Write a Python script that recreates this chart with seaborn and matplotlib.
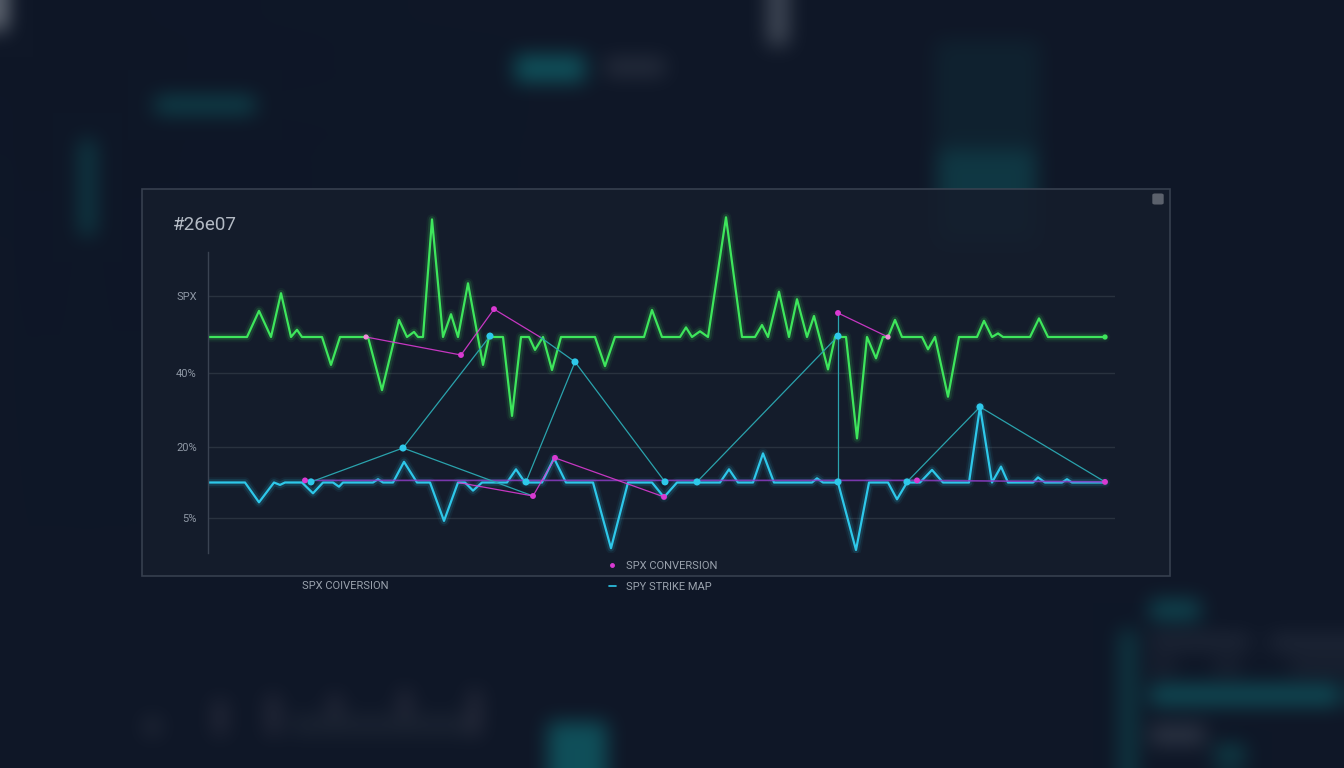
import numpy as np
import pandas as pd
import matplotlib
matplotlib.use("Agg")
import matplotlib.pyplot as plt
import seaborn as sns
from matplotlib.patches import Rectangle, FancyBboxPatch
from matplotlib.lines import Line2D

# ---- data (t = time step, v = level) ----
green_t = [0, 39, 51, 63, 73, 83, 89, 94, 114, 123, 132, 160, 174, 191, 199, 206, 210, 215,
           224, 235, 243, 250, 260, 275, 281, 295, 304, 313, 321, 327, 335, 344, 353, 387,
           397, 407, 436, 444, 454, 472, 478, 484, 492, 500, 518, 534, 547, 554, 560, 571,
           581, 589, 599, 606, 620, 627, 638, 649, 659, 668, 675, 680, 687, 694, 714, 720,
           727, 740, 751, 769, 776, 784, 790, 795, 822, 831, 840, 897]
green_v = [72, 72, 80.7, 72, 86.6, 72, 74.4, 72, 72, 62.7, 72, 72, 54.3, 77.7, 72, 73.7, 72, 72,
           111.2, 72, 79.6, 72, 89.9, 62.7, 72, 72, 45.7, 72, 72, 67.7, 72, 61.0, 72, 72,
           62.3, 72, 72, 81.0, 72, 72, 75.2, 72, 73.9, 72, 111.9, 72, 72, 76.0, 72, 87.1,
           72, 84.6, 72, 79.0, 61.2, 72, 72, 38.2, 72, 64.9, 72, 72, 77.7, 72, 72, 67.9,
           72, 52.1, 72, 72, 77.4, 72, 73.2, 72, 72, 78.2, 72, 72]

blue_t = [0, 37, 51, 66, 72, 77, 94, 105, 115, 125, 131, 135, 165, 170, 175, 185, 196, 209,
          222, 236, 250, 257, 265, 274, 299, 308, 317, 334, 346, 358, 385, 403, 420, 444,
          456, 469, 512, 521, 530, 545, 555, 566, 604, 609, 615, 630, 648, 661, 680, 689,
          699, 712, 724, 735, 761, 772, 784, 793, 800, 825, 830, 837, 854, 859, 864, 897]
blue_v = [23.5, 23.5, 16.9, 23.5, 22.7, 23.5, 23.5, 19.9, 23.5, 23.5, 22.1, 23.5, 23.5, 24.6,
          23.5, 23.5, 30.4, 23.5, 23.5, 10.7, 23.5, 23.5, 20.8, 23.5, 23.5, 27.9, 23.5, 23.5,
          31.6, 23.5, 23.5, 1.6, 23.5, 23.5, 18.6, 23.5, 23.5, 27.9, 23.5, 23.5, 33.2, 23.5,
          23.5, 24.9, 23.5, 23.5, 1.0, 23.5, 23.5, 17.9, 23.5, 23.5, 27.7, 23.5, 23.5, 48.8,
          23.5, 28.8, 23.5, 23.5, 25.2, 23.5, 23.5, 24.6, 23.5, 23.5]

# strike map connectors (cyan), one id per segment
strike_seg = [1, 1, 1, 2, 2, 3, 3, 3, 4, 4, 5, 5, 6, 6, 7, 7, 7]
strike_t = [103, 195, 282, 195, 325, 318, 367, 457, 332, 367, 489, 630, 630, 630, 699, 772, 897]
strike_v = [23.7, 35.0, 72.3, 35.0, 19.0, 23.7, 63.7, 23.7, 72.0, 63.7, 23.7, 72.3, 80.0, 23.7,
            23.7, 48.7, 23.7]
strike_pt_t = [103, 195, 282, 318, 367, 457, 489, 630, 630, 699, 772]
strike_pt_v = [23.7, 35.0, 72.3, 23.7, 63.7, 23.7, 23.7, 72.3, 23.7, 23.7, 48.7]

# conversion connectors (magenta)
conv_seg = [1, 1, 1, 1, 2, 2, 2, 2, 3, 3]
conv_t = [158, 253, 286, 332, 250, 325, 347, 456, 630, 680]
conv_v = [72, 66, 81.3, 72, 23.5, 19.0, 31.7, 18.7, 80.0, 72]
conv_base_t = [97, 709, 897]
conv_base_v = [24.2, 24.2, 23.7]
conv_pt_t = [253, 286, 325, 347, 456, 630, 97, 709, 897]
conv_pt_v = [66, 81.3, 19.0, 31.7, 18.7, 80.0, 24.2, 24.2, 23.7]
conv_pale_t = [158, 680]
conv_pale_v = [72, 72]

tick_pos = [11.7, 35.3, 60.0, 85.7]
tick_labels = ["5%", "20%", "40%", "SPX"]

GREEN = "#3ee65c"
CYAN = "#2ec8ea"
TEAL = "#2aa3ad"
MAGENTA = "#d93ad2"
PURPLE = "#8c3cc4"
BG = "#0f1727"

W, H = 1344, 768


def fx(px):
    return px / W


def fy(py):
    return 1 - py / H


def box_blur(img, r):
    for axis in (0, 1):
        pad = [(r + 1, r) if a == axis else (0, 0) for a in range(2)] + [(0, 0)]
        c = np.cumsum(np.pad(img, pad, mode="edge"), axis=axis)
        if axis == 0:
            img = (c[2 * r + 1:] - c[:-2 * r - 1]) / (2 * r + 1)
        else:
            img = (c[:, 2 * r + 1:] - c[:, :-2 * r - 1]) / (2 * r + 1)
    return img


def blurred_backdrop():
    # out-of-focus dashboard behind the chart
    base = np.array(matplotlib.colors.to_rgb(BG))
    img = np.zeros((H, W, 3))
    img[:] = base
    blobs = [
        (515, 55, 585, 82, "#0f6068", 0.8), (605, 58, 665, 76, "#2c3342", 0.8),
        (155, 97, 255, 113, "#0e5158", 0.8), (80, 140, 95, 235, "#0e4f56", 0.7),
        (935, 40, 1040, 250, "#112f3a", 0.45), (938, 150, 1035, 240, "#0f525a", 0.55),
        (768, 0, 788, 45, "#6f7783", 0.55), (0, 0, 6, 30, "#9aa0a8", 0.8),
        (145, 718, 160, 735, "#2e3442", 0.7), (215, 700, 225, 735, "#3a3a4a", 0.7),
        (268, 695, 278, 735, "#3a3a4a", 0.7), (330, 695, 340, 735, "#3a3a4a", 0.7),
        (400, 690, 410, 735, "#3a3a4a", 0.7), (470, 690, 480, 735, "#3a3a4a", 0.7),
        (290, 715, 470, 735, "#222a38", 0.6),
        (548, 722, 607, 768, "#0f5d66", 0.8),
        (1120, 630, 1136, 768, "#0d4b52", 0.7), (1150, 600, 1200, 620, "#0f5a62", 0.7),
        (1150, 635, 1250, 648, "#2a3242", 0.7), (1270, 635, 1344, 650, "#283040", 0.7),
        (1150, 660, 1175, 672, "#252d3c", 0.7), (1215, 660, 1240, 672, "#252d3c", 0.7),
        (1290, 660, 1344, 672, "#252d3c", 0.7),
        (1150, 685, 1340, 705, "#106068", 0.75), (1150, 725, 1205, 745, "#394150", 0.7),
        (1215, 745, 1245, 765, "#0e4f55", 0.7),
    ]
    for x0, y0, x1, y1, col, a in blobs:
        img[y0:y1, x0:x1] = base + a * (np.array(matplotlib.colors.to_rgb(col)) - base)
    for _ in range(3):
        img = box_blur(img, 9)
    return np.clip(img, 0, 1)


def glow_line(ax, df, color, lw, **kw):
    for extra, alpha in [(6.0, 0.06), (3.2, 0.14)]:
        sns.lineplot(data=df, x="t", y="v", ax=ax, color=color, lw=lw + extra, alpha=alpha,
                     estimator=None, sort=False, legend=False, **kw)
    sns.lineplot(data=df, x="t", y="v", ax=ax, color=color, lw=lw,
                 estimator=None, sort=False, legend=False, **kw)


def main():
    sns.set_theme(style="dark")
    plt.rcParams["font.family"] = ["Roboto", "DejaVu Sans"]

    fig = plt.figure(figsize=(13.44, 7.68), dpi=100)
    fig.patch.set_facecolor(BG)

    bg_ax = fig.add_axes([0, 0, 1, 1], zorder=0)
    bg_ax.imshow(blurred_backdrop(), extent=(0, 1, 0, 1), aspect="auto")
    bg_ax.set_xlim(0, 1)
    bg_ax.set_ylim(0, 1)
    bg_ax.axis("off")

    # chart panel
    bg_ax.add_patch(Rectangle((fx(142), fy(576)), fx(1170) - fx(142), fy(189) - fy(576),
                              facecolor="#151d2c", alpha=0.9, edgecolor="#3a4352", lw=1.2))
    bg_ax.add_patch(FancyBboxPatch((fx(1155), fy(203)), fx(6), fy(195) - fy(203),
                                   boxstyle="round,pad=0.002", facecolor="#5b616c",
                                   edgecolor="none"))
    bg_ax.text(fx(173), fy(225), "#26e07", color="#b3bac4", fontsize=13.5,
               va="center", ha="left")
    bg_ax.text(fx(345), fy(586), "SPX COIVERSION", color="#9aa2ad", fontsize=8,
               va="center", ha="center")

    ax = fig.add_axes([fx(208), fy(553), fx(1115) - fx(208), fy(205) - fy(553)], zorder=1)
    ax.set_facecolor("none")
    ax.set_xlim(0, 907)
    ax.set_ylim(0, 116)

    green_df = pd.DataFrame({"t": green_t, "v": green_v})
    blue_df = pd.DataFrame({"t": blue_t, "v": blue_v})
    strike_df = pd.DataFrame({"seg": strike_seg, "t": strike_t, "v": strike_v})
    conv_df = pd.DataFrame({"seg": conv_seg, "t": conv_t, "v": conv_v})
    conv_base_df = pd.DataFrame({"t": conv_base_t, "v": conv_base_v})

    glow_line(ax, blue_df, CYAN, 1.6)
    glow_line(ax, green_df, GREEN, 1.6)

    sns.lineplot(data=conv_base_df, x="t", y="v", ax=ax, color=PURPLE, lw=1.2, alpha=0.85,
                 estimator=None, sort=False, legend=False)
    sns.lineplot(data=strike_df, x="t", y="v", units="seg", ax=ax, color=TEAL, lw=0.9,
                 estimator=None, sort=False, legend=False)
    sns.lineplot(data=conv_df, x="t", y="v", units="seg", ax=ax, color=MAGENTA, lw=0.9,
                 alpha=0.9, estimator=None, sort=False, legend=False)

    sns.scatterplot(x=strike_pt_t, y=strike_pt_v, ax=ax, color=CYAN, s=26, edgecolor="none",
                    zorder=5, legend=False)
    sns.scatterplot(x=conv_pt_t, y=conv_pt_v, ax=ax, color=MAGENTA, s=18, edgecolor="none",
                    zorder=5, legend=False)
    sns.scatterplot(x=conv_pale_t, y=conv_pale_v, ax=ax, color="#f08ad8", s=14,
                    edgecolor="none", zorder=5, legend=False)
    sns.scatterplot(x=[green_t[-1]], y=[green_v[-1]], ax=ax, color=GREEN, s=14,
                    edgecolor="none", zorder=5, legend=False)

    ax.set_yticks(tick_pos)
    ax.set_yticklabels(tick_labels)
    ax.set_xticks([])
    ax.grid(axis="y", color="#29323f", lw=1)
    ax.tick_params(axis="y", length=0, pad=8, labelsize=8, labelcolor="#8f98a5")
    ax.set_xlabel("")
    ax.set_ylabel("")
    for side in ["top", "right", "bottom"]:
        ax.spines[side].set_visible(False)
    ax.spines["left"].set_color("#3a4352")
    ax.spines["left"].set_linewidth(1)
    ax.spines["left"].set_bounds(0, 100.3)

    handles = [
        Line2D([], [], marker="o", ms=2.5, color=MAGENTA, ls="none"),
        Line2D([], [], color=CYAN, lw=1.2),
    ]
    ax.legend(handles, ["SPX CONVERSION", "SPY STRIKE MAP"], loc="upper left",
              bbox_to_anchor=(fx(603), fy(555)), bbox_transform=fig.transFigure,
              frameon=False, fontsize=8, labelcolor="#9aa2ad", handlelength=0.7,
              handletextpad=0.9, labelspacing=1.05, borderpad=0)

    fig.savefig("out.png", dpi=100, facecolor=BG)
    plt.close(fig)


if __name__ == "__main__":
    main()
